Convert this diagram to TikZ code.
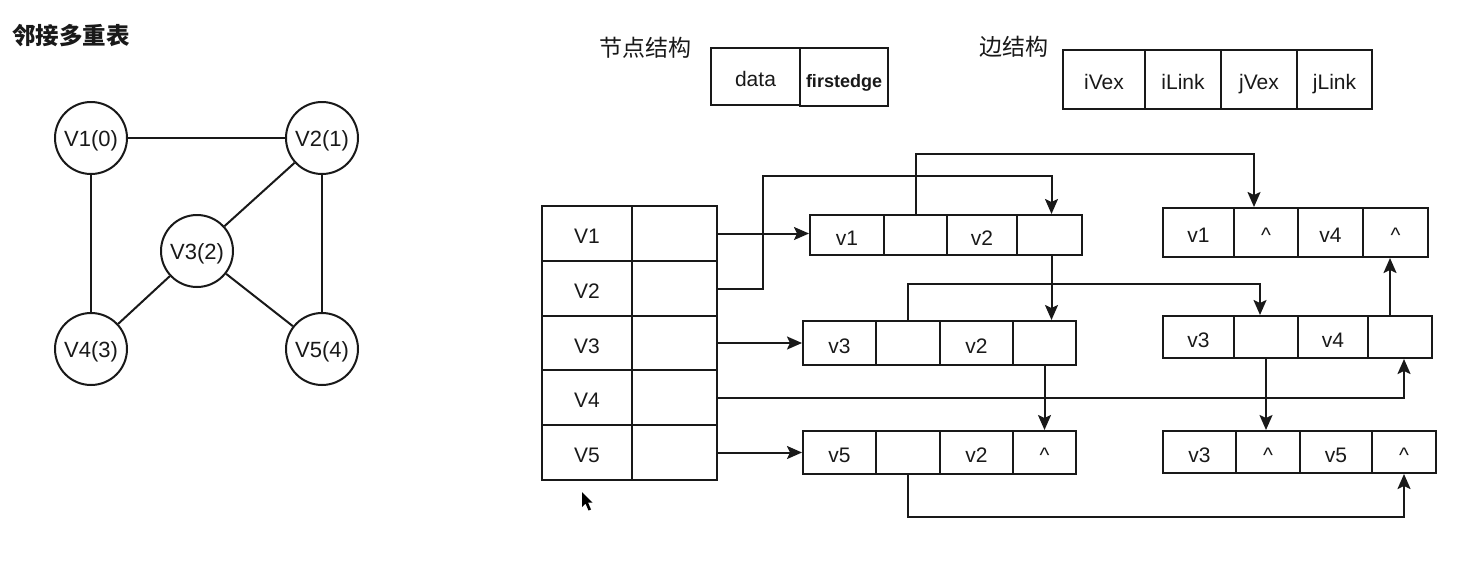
\documentclass[tikz,border=0pt]{standalone}
\usepackage{fontspec}
\setmainfont{Liberation Sans}
\newfontfamily\cjk{Noto Sans CJK SC}
\usetikzlibrary{arrows.meta}
\tikzset{
  ln/.style={line width=2pt, draw=black!90},
  cell/.style={ln, rectangle, inner sep=0pt, font=\fontsize{21}{24}\selectfont, text=black!90, text height=20pt, text depth=0pt},
  legend/.style={text height=15.5pt, text depth=0pt},
  vtx/.style={ln, circle, minimum size=72pt, inner sep=0pt, font=\fontsize{22}{26}\selectfont, text=black!90, text height=18pt, text depth=2pt},
  arr/.style={ln, -{Stealth[length=15pt,width=13pt,inset=3pt]}},
  plain/.style={ln},
  lbl/.style={font=\cjk\fontsize{23}{26}\selectfont, text=black!90, inner sep=0pt},
}
\newcommand{\mkcell}[7][]{%
  \node[cell, #1, minimum width={(#3-#2)*1pt}, minimum height={(#5-#4)*1pt}] (#2) at ({(#3+#4)/2},{(#5+#6)/2}) {#7};}
\renewcommand{\mkcell}[6]{%
  \node[cell, minimum width={(#3-#2)*1pt}, minimum height={(#5-#4)*1pt}] (#1) at ({(#2+#3)/2},{(#4+#5)/2}) {#6};}
\begin{document}
\begin{tikzpicture}[x=1pt,y=-1pt]
\fill[white] (0,0) rectangle (1480,571);
\useasboundingbox (0,0) rectangle (1480,571);

% title and graph
\node[lbl, font=\cjk\bfseries\fontsize{23.5}{26}\selectfont] (title) at (71,36) {邻接多重表};
\node[vtx] (g1) at (91,138) {V1(0)};
\node[vtx] (g2) at (322,138) {V2(1)};
\node[vtx] (g3) at (197,251) {V3(2)};
\node[vtx] (g4) at (91,349) {V4(3)};
\node[vtx] (g5) at (322,349) {V5(4)};
\draw[plain] (g1) -- (g2);
\draw[plain] (g1) -- (g4);
\draw[plain] (g2) -- (g3);
\draw[plain] (g2) -- (g5);
\draw[plain] (g3) -- (g4);
\draw[plain] (g3) -- (g5);

% structure legends
\node[lbl] (nslbl) at (645,48) {节点结构};
\node[lbl] (eslbl) at (1014,47) {边结构};
\begin{scope}[every node/.append style={legend}]
\mkcell{nsa}{711}{800}{48}{105}{data}
\node[cell, minimum width=88pt, minimum height=58pt, font=\bfseries\fontsize{18}{22}\selectfont] (nsb) at (844,77) {firstedge};
\mkcell{esa}{1063}{1145}{50}{109}{iVex}
\mkcell{esb}{1145}{1221}{50}{109}{iLink}
\mkcell{esc}{1221}{1297}{50}{109}{jVex}
\mkcell{esd}{1297}{1372}{50}{109}{jLink}
\end{scope}

% vertex table
\mkcell{t1a}{542}{632}{206}{261}{V1}
\mkcell{t1b}{632}{717}{206}{261}{}
\mkcell{t2a}{542}{632}{261}{316}{V2}
\mkcell{t2b}{632}{717}{261}{316}{}
\mkcell{t3a}{542}{632}{316}{370}{V3}
\mkcell{t3b}{632}{717}{316}{370}{}
\mkcell{t4a}{542}{632}{370}{425}{V4}
\mkcell{t4b}{632}{717}{370}{425}{}
\mkcell{t5a}{542}{632}{425}{480}{V5}
\mkcell{t5b}{632}{717}{425}{480}{}

% edge nodes, left column
\mkcell{e1a}{810}{884}{215}{255}{v1}
\mkcell{e1b}{884}{947}{215}{255}{}
\mkcell{e1c}{947}{1017}{215}{255}{v2}
\mkcell{e1d}{1017}{1082}{215}{255}{}
\mkcell{e2a}{803}{876}{321}{365}{v3}
\mkcell{e2b}{876}{940}{321}{365}{}
\mkcell{e2c}{940}{1013}{321}{365}{v2}
\mkcell{e2d}{1013}{1076}{321}{365}{}
\mkcell{e3a}{803}{876}{431}{474}{v5}
\mkcell{e3b}{876}{940}{431}{474}{}
\mkcell{e3c}{940}{1013}{431}{474}{v2}
\mkcell{e3d}{1013}{1076}{431}{474}{\textasciicircum}

% edge nodes, right column
\mkcell{e4a}{1163}{1234}{208}{257}{v1}
\mkcell{e4b}{1234}{1298}{208}{257}{\textasciicircum}
\mkcell{e4c}{1298}{1363}{208}{257}{v4}
\mkcell{e4d}{1363}{1428}{208}{257}{\textasciicircum}
\mkcell{e5a}{1163}{1234}{316}{358}{v3}
\mkcell{e5b}{1234}{1298}{316}{358}{}
\mkcell{e5c}{1298}{1368}{316}{358}{v4}
\mkcell{e5d}{1368}{1432}{316}{358}{}
\mkcell{e6a}{1163}{1236}{431}{473}{v3}
\mkcell{e6b}{1236}{1300}{431}{473}{\textasciicircum}
\mkcell{e6c}{1300}{1372}{431}{473}{v5}
\mkcell{e6d}{1372}{1436}{431}{473}{\textasciicircum}

% bend and port coordinates
\coordinate (b2) at (763,176);
\coordinate (h1) at (0,154);
\coordinate (h2) at (0,284);
\coordinate (h3) at (0,517);
\coordinate (p1d) at ([xshift=2pt]e1d.north);
\coordinate (q1d) at ([xshift=2pt]e1d.south);
\coordinate (p4b) at ([xshift=-12pt]e4b.north);
\coordinate (p5b) at ([xshift=-6pt]e5b.north);
\coordinate (q5d) at ([xshift=4pt]e5d.south);
\coordinate (p5d) at ([xshift=-10pt]e5d.north);

% connectors
\draw[arr] (t1b.east) -- (t1b.east -| e1a.west);
\draw[arr] (t2b.east) -| (b2) -| (p1d);
\draw[arr] (e1b.north) |- (h1 -| p4b) -- (p4b);
\draw[arr] (q1d) -- (q1d |- e2d.north);
\draw[arr] (t3b.east) -- (t3b.east -| e2a.west);
\draw[arr] (e2b.north) |- (h2 -| p5b) -- (p5b);
\draw[arr] (e2d.south) -- (e2d.south |- e3d.north);
\draw[arr] (t4b.east) -| (q5d);
\draw[arr] (p5d) -- (p5d |- e4d.south);
\draw[arr] (e5b.south) -- (e5b.south |- e6b.north);
\draw[arr] (t5b.east) -- (t5b.east -| e3a.west);
\draw[arr] (e3b.south) |- (h3 -| e6d.south) -- (e6d.south);

% mouse pointer
\fill[black] (582,492) -- (582,507) -- (585.5,503.5) -- (588.5,510.5) -- (591,509.5) -- (588,502.5) -- (592.5,502.5) -- cycle;
\end{tikzpicture}
\end{document}
